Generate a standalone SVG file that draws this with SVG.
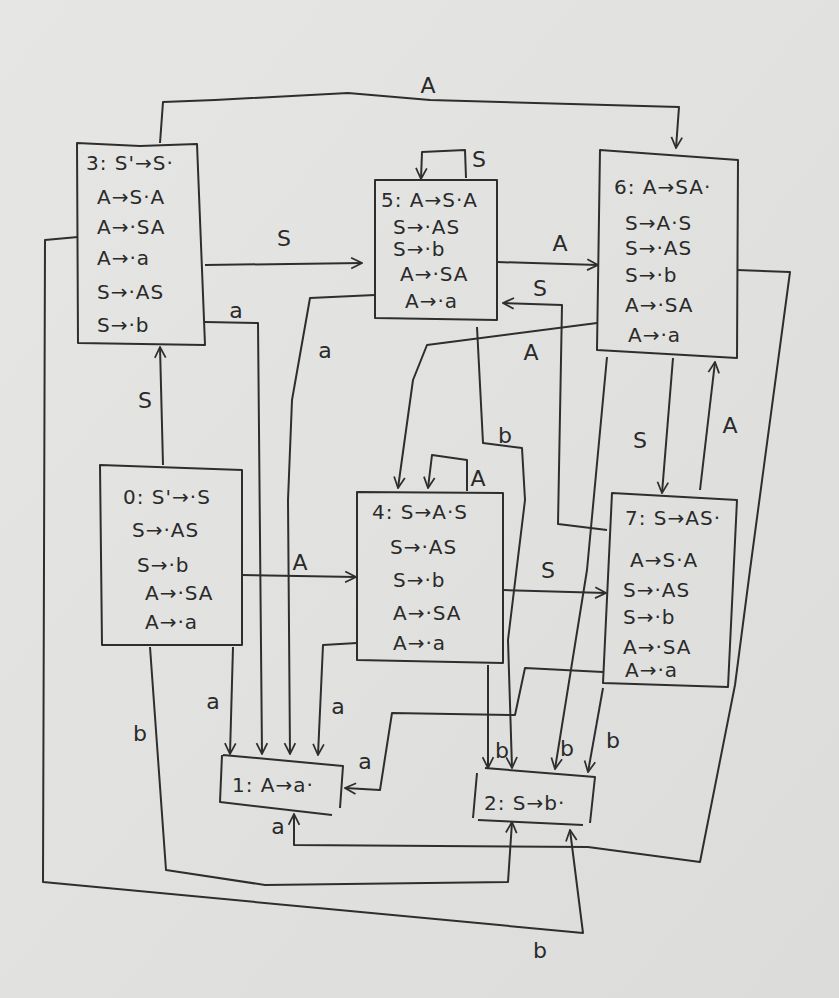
<svg xmlns="http://www.w3.org/2000/svg" width="839" height="998" viewBox="0 0 839 998">
<defs>
<marker id="arr" viewBox="0 0 12 12" refX="11" refY="6" markerWidth="13" markerHeight="13" markerUnits="userSpaceOnUse" orient="auto">
<path d="M1,1 L11,6 L1,11" fill="none" stroke="#2e2e2e" stroke-width="1.6"/>
</marker>
<linearGradient id="bg" x1="0" y1="0" x2="1" y2="1">
<stop offset="0" stop-color="#e6e7e5"/>
<stop offset="1" stop-color="#dcdddb"/>
</linearGradient>
</defs>
<style>
.box{fill:none;stroke:#2e2e2e;stroke-width:2;stroke-linejoin:round}
.ea{fill:none;stroke:#2e2e2e;stroke-width:2;stroke-linejoin:round;marker-end:url(#arr)}
.t{font-family:"DejaVu Sans","Liberation Sans",sans-serif;font-size:20px;letter-spacing:1px;fill:#2a2a2a}
.l{font-family:"DejaVu Sans","Liberation Sans",sans-serif;font-size:22px;fill:#2a2a2a;text-anchor:middle}
</style>
<rect width="839" height="998" fill="url(#bg)"/>

<g id="edges">
<path id="e0-3" class="ea" d="M163,465 L160,347"/>
<path id="e0-4" class="ea" d="M242,575 L356,577"/>
<path id="e0-1" class="ea" d="M233,647 L230,754"/>
<path id="e0-2" class="ea" d="M150,647 L166,870 L265,885 L508,882 L512,822"/>
<path id="e3-5" class="ea" d="M205,265 L362,263"/>
<path id="e3-1" class="ea" d="M205,322 L258,323 L262,754"/>
<path id="e3-6" class="ea" d="M160,143 L163,102 L215,100 L348,93 L430,100 L679,107 L676,148"/>
<path id="e3-2" class="ea" d="M78,237 L45,240 L43,882 L583,933 L570,830"/>
<path id="e5-5" class="ea" d="M466,178 L465,150 L422,152 L421,179"/>
<path id="e5-6" class="ea" d="M497,262 L598,265"/>
<path id="e7-5" class="ea" d="M607,530 L558,524 L562,305 L503,303"/>
<path id="e5-1" class="ea" d="M375,295 L310,298 L292,400 L288,500 L290,754"/>
<path id="e5-2" class="ea" d="M477,327 L483,443 L522,448 L525,500 L508,640 L512,768"/>
<path id="e6-4" class="ea" d="M597,323 L427,345 L413,380 L398,488"/>
<path id="e4-4" class="ea" d="M467,491 L467,460 L432,455 L428,488"/>
<path id="e4-7" class="ea" d="M503,590 L606,593"/>
<path id="e4-1" class="ea" d="M357,643 L323,645 L318,755"/>
<path id="e4-2" class="ea" d="M488,665 L488,768"/>
<path id="e6-7" class="ea" d="M673,358 L662,493"/>
<path id="e7-6" class="ea" d="M700,490 L715,362"/>
<path id="e6-2" class="ea" d="M607,357 L587,570 L555,769"/>
<path id="e7-2" class="ea" d="M603,688 L588,772"/>
<path id="e7-1" class="ea" d="M603,672 L525,668 L515,715 L392,713 L380,790 L345,788"/>
<path id="e6-1" class="ea" d="M737,270 L790,272 L750,570 L735,685 L700,862 L588,847 L294,845 L294,814"/>
</g>

<g id="labels">
<text class="l" x="428" y="93">A</text>
<text class="l" x="284" y="246">S</text>
<text class="l" x="479" y="167">S</text>
<text class="l" x="560" y="251">A</text>
<text class="l" x="540" y="296">S</text>
<text class="l" x="236" y="318">a</text>
<text class="l" x="325" y="358">a</text>
<text class="l" x="531" y="360">A</text>
<text class="l" x="505" y="443">b</text>
<text class="l" x="145" y="408">S</text>
<text class="l" x="640" y="448">S</text>
<text class="l" x="730" y="433">A</text>
<text class="l" x="478" y="486">A</text>
<text class="l" x="300" y="570">A</text>
<text class="l" x="548" y="578">S</text>
<text class="l" x="213" y="709">a</text>
<text class="l" x="338" y="714">a</text>
<text class="l" x="140" y="741">b</text>
<text class="l" x="365" y="769">a</text>
<text class="l" x="502" y="758">b</text>
<text class="l" x="567" y="756">b</text>
<text class="l" x="613" y="748">b</text>
<text class="l" x="278" y="834">a</text>
<text class="l" x="540" y="958">b</text>
</g>

<g id="node3">
<path class="box" d="M77,143 L140,146 L197,144 L205,345 L78,343 Z"/>
<text class="t" x="86" y="170">3: S'→S·</text>
<text class="t" x="97" y="204">A→S·A</text>
<text class="t" x="97" y="234">A→·SA</text>
<text class="t" x="97" y="265">A→·a</text>
<text class="t" x="97" y="299">S→·AS</text>
<text class="t" x="97" y="332">S→·b</text>
</g>

<g id="node5">
<path class="box" d="M375,180 L497,180 L497,320 L375,318 Z"/>
<text class="t" x="381" y="207">5: A→S·A</text>
<text class="t" x="393" y="234">S→·AS</text>
<text class="t" x="393" y="256">S→·b</text>
<text class="t" x="400" y="281">A→·SA</text>
<text class="t" x="405" y="308">A→·a</text>
</g>

<g id="node6">
<path class="box" d="M600,150 L738,160 L737,358 L597,350 Z"/>
<text class="t" x="614" y="194">6: A→SA·</text>
<text class="t" x="625" y="230">S→A·S</text>
<text class="t" x="625" y="255">S→·AS</text>
<text class="t" x="625" y="282">S→·b</text>
<text class="t" x="625" y="312">A→·SA</text>
<text class="t" x="628" y="342">A→·a</text>
</g>

<g id="node0">
<path class="box" d="M100,465 L242,470 L242,645 L102,645 Z"/>
<text class="t" x="123" y="504">0: S'→·S</text>
<text class="t" x="132" y="537">S→·AS</text>
<text class="t" x="137" y="572">S→·b</text>
<text class="t" x="145" y="600">A→·SA</text>
<text class="t" x="145" y="629">A→·a</text>
</g>

<g id="node4">
<path class="box" d="M357,492 L503,493 L503,663 L357,660 Z"/>
<text class="t" x="372" y="519">4: S→A·S</text>
<text class="t" x="390" y="554">S→·AS</text>
<text class="t" x="393" y="587">S→·b</text>
<text class="t" x="393" y="620">A→·SA</text>
<text class="t" x="393" y="650">A→·a</text>
</g>

<g id="node7">
<path class="box" d="M612,493 L737,500 L728,687 L603,683 Z"/>
<text class="t" x="625" y="525">7: S→AS·</text>
<text class="t" x="630" y="567">A→S·A</text>
<text class="t" x="623" y="597">S→·AS</text>
<text class="t" x="623" y="624">S→·b</text>
<text class="t" x="623" y="654">A→·SA</text>
<text class="t" x="625" y="677">A→·a</text>
</g>

<g id="node1">
<path class="box" d="M223,755 L343,766 L340,808 M332,815 L220,802 L222,755"/>
<text class="t" x="232" y="792">1: A→a·</text>
</g>

<g id="node2">
<path class="box" d="M485,768 L595,777 L590,823 M583,825 L478,820 M473,818 L477,773"/>
<text class="t" x="484" y="810">2: S→b·</text>
</g>
</svg>
